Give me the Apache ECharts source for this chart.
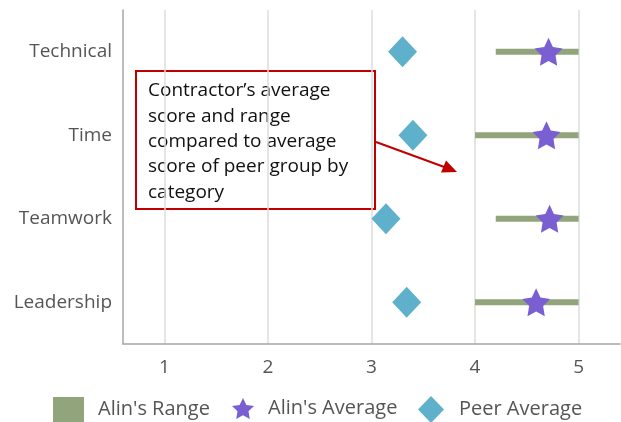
<!DOCTYPE html>
<html>
<head>
<meta charset="utf-8">
<script src="https://cdn.jsdelivr.net/npm/echarts@6/dist/echarts.min.js"></script>
<style>
  html, body { margin: 0; padding: 0; background: #fff; }
  #chart { width: 621px; height: 422px; }
</style>
</head>
<body>
<div id="chart"></div>
<script>
// Score categories, top to bottom
const categories = ['Technical', 'Time', 'Teamwork', 'Leadership'];
// Alin's lowest and highest score per category
const rangeLow  = [4.2, 4.0, 4.2, 4.0];
const rangeHigh = [5.0, 5.0, 5.0, 5.0];
// Alin's average score per category
const alinAverage = [4.71, 4.69, 4.72, 4.59];
// Average score of the peer group per category
const peerAverage = [3.30, 3.40, 3.14, 3.34];
// Score tick labels
const scoreTicks = [1, 2, 3, 4, 5];

const STAR = 'path://M50 0 L64.69 29.77 L97.55 34.55 L73.78 57.73 L79.39 90.45 L50 75 L20.61 90.45 L26.22 57.73 L2.45 34.55 L35.31 29.77 Z';
const FONT = '"Open Sans", sans-serif';
const TEXT_GRAY = '#555555';
const RANGE_COLOR = '#92a47c';
const STAR_COLOR = '#7a5fd2';
const PEER_COLOR = '#5eb0cb';

const chart = echarts.init(document.getElementById('chart'), null, { renderer: 'canvas' });

// Each legend entry gets its own legend box so icon sizes can differ
function legendEntry(name, icon, left, top, w, h, gap) {
  return {
    left: left, top: top, itemWidth: w, itemHeight: h,
    selectedMode: false,
    textStyle: { color: TEXT_GRAY, fontSize: 20, fontFamily: FONT, padding: [0, 0, 0, gap] },
    data: [{ name: name, icon: icon }]
  };
}

chart.setOption({
  animation: false,
  grid: { left: 123, right: 1, top: 10, bottom: 78 },
  xAxis: {
    type: 'value',
    min: 0.6,
    max: 5.4,
    axisLine: { show: true, lineStyle: { color: '#a6a6a6', width: 1.5 } },
    axisTick: { show: false, customValues: scoreTicks },
    axisLabel: {
      customValues: scoreTicks,
      color: TEXT_GRAY, fontSize: 19, fontFamily: FONT, margin: 14
    },
    splitLine: { show: true, lineStyle: { color: '#dcdcdc', width: 1.5 } }
  },
  yAxis: {
    type: 'category',
    data: categories,
    inverse: true,
    axisLine: { show: true, lineStyle: { color: '#a6a6a6', width: 1.5 } },
    axisTick: { show: false },
    axisLabel: { color: TEXT_GRAY, fontSize: 19, fontFamily: FONT, margin: 11 },
    splitLine: { show: false }
  },
  legend: [
    legendEntry("Alin's Range", 'rect', 48, 392, 31, 25, 9),
    legendEntry("Alin's Average", STAR, 227, 393, 22, 22, 9),
    legendEntry('Peer Average', 'diamond', 413, 391, 26, 27, 10)
  ],
  series: [
    {
      name: "Alin's Range",
      type: 'custom',
      itemStyle: { color: RANGE_COLOR },
      data: categories.map((c, i) => [rangeLow[i], i, rangeHigh[i]]),
      encode: { x: [0, 2], y: 1 },
      renderItem: function (params, api) {
        const start = api.coord([api.value(0), api.value(1)]);
        const end = api.coord([api.value(2), api.value(1)]);
        const h = 6;
        return {
          type: 'rect',
          shape: { x: start[0], y: start[1] - h / 2, width: end[0] - start[0], height: h },
          style: { fill: RANGE_COLOR }
        };
      }
    },
    {
      name: "Alin's Average",
      type: 'scatter',
      symbol: STAR,
      symbolSize: 28,
      itemStyle: { color: STAR_COLOR, opacity: 1 },
      data: categories.map((c, i) => [alinAverage[i], i]),
      z: 3
    },
    {
      name: 'Peer Average',
      type: 'scatter',
      symbol: 'diamond',
      symbolSize: [29, 31],
      itemStyle: { color: PEER_COLOR, opacity: 1 },
      data: categories.map((c, i) => [peerAverage[i], i]),
      z: 3
    }
  ],
  graphic: [
    {
      type: 'group',
      z: 10,
      children: [
        {
          type: 'rect',
          shape: { x: 136, y: 71, width: 239, height: 138 },
          style: { fill: '#ffffff', stroke: '#c00000', lineWidth: 2 }
        },
        {
          type: 'text',
          x: 148, y: 78,
          style: {
            text: 'Contractor\u2019s average\nscore and range\ncompared to average\nscore of peer group by\ncategory',
            fill: '#111111',
            font: '19px ' + FONT,
            lineHeight: 25.4
          }
        },
        {
          type: 'line',
          shape: { x1: 376, y1: 142, x2: 447, y2: 168 },
          style: { stroke: '#c00000', lineWidth: 2 }
        },
        {
          type: 'polygon',
          shape: { points: [[457, 172], [441, 172.5], [446, 160.5]] },
          style: { fill: '#c00000' }
        }
      ]
    }
  ]
});
</script>
</body>
</html>
